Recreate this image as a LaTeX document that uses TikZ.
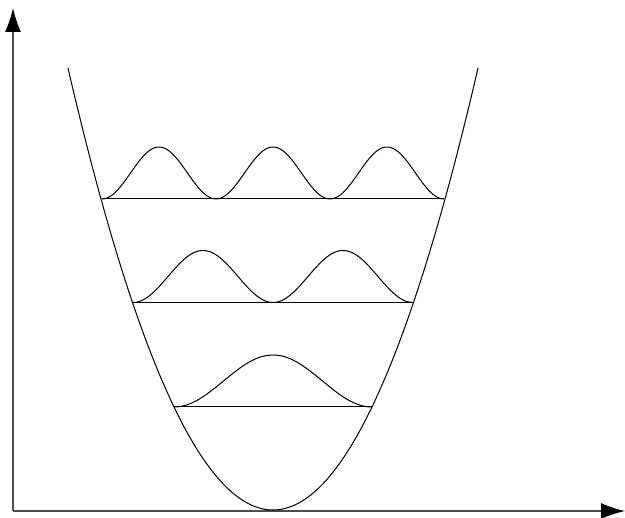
\documentclass[tikz,border=0pt]{standalone}
\usepackage{xcolor}
\usepackage{tikz}
\usetikzlibrary{arrows.meta}

\begin{document}
\begin{tikzpicture}[x=1pt, y=-1pt, >={Latex[length=24pt, width=16pt, color=black]},
    axis/.style={draw=black!70, line width=1.3pt, ->},
    curve/.style={draw=black, line width=1pt},
    level/.style={draw=black, line width=1pt}]
  \useasboundingbox (0,0) rectangle (625,518);
  % axes
  \coordinate (o) at (13,511);
  \coordinate (ytop) at (13,8);
  \coordinate (xend) at (625,511);
  \draw[axis] (o) -- (ytop);
  \draw[axis] (o) -- (xend);
  % potential well
  \draw[curve, domain=68:478, samples=120, smooth]
    plot (\x, {510 - 0.01052*(\x-273)*(\x-273)});
  % levels and wave functions: y / left / right / number of bumps
  \foreach \yl/\xa/\xb/\n in {407/174/372/1, 302.5/133/413/2, 199/102/444/3} {
    \coordinate (l\n) at (\xa,\yl);
    \coordinate (r\n) at (\xb,\yl);
    \draw[level] (l\n) -- (r\n);
    \draw[curve, domain=\xa:\xb, samples=150, smooth]
      plot (\x, {\yl - 52*sin(180*\n/(\xb-\xa)*(\x-\xa))^2});
  }
\end{tikzpicture}
\end{document}
